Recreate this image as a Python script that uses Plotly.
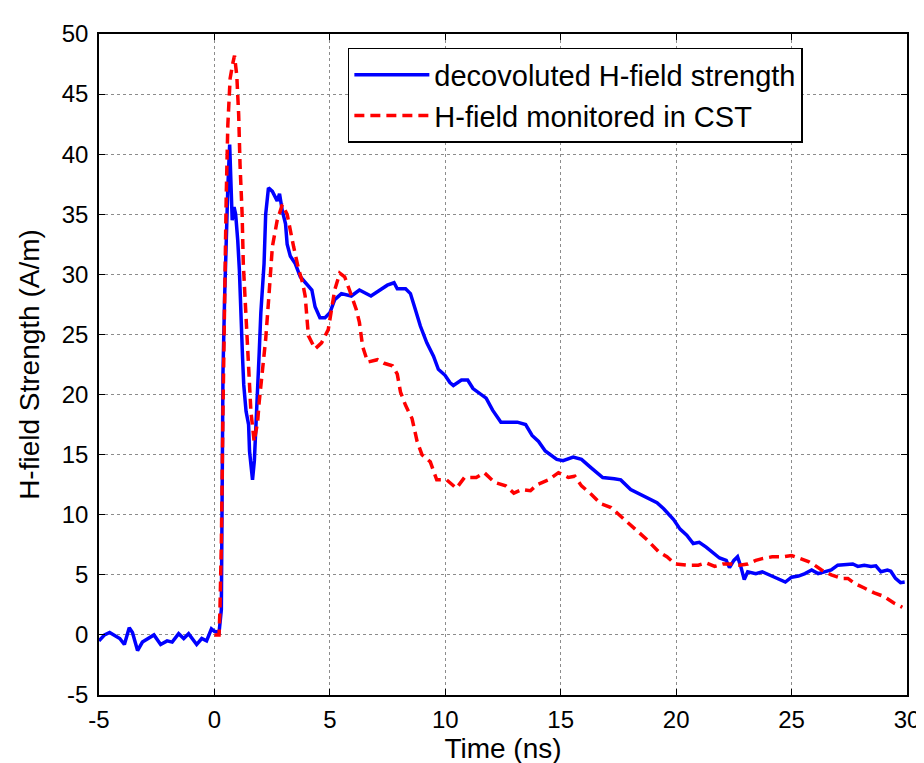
import plotly.graph_objects as go

blue_x = [-5.0, -4.76, -4.54, -4.33, -4.1, -3.9, -3.69, -3.55, -3.33, -3.12, -2.9, -2.62, -2.33, -2.05, -1.83,
          -1.55, -1.33, -1.12, -0.77, -0.55, -0.34, -0.13, 0.0, 0.2, 0.3, 0.32, 0.37, 0.44, 0.5, 0.58, 0.66,
          0.73, 0.77, 0.85, 0.92, 1.01, 1.08, 1.22, 1.27, 1.37, 1.48, 1.52, 1.6, 1.65, 1.73, 1.8, 1.87, 1.94,
          2.01, 2.15, 2.22, 2.34, 2.51, 2.72, 2.82, 2.94, 3.08, 3.15, 3.29, 3.5, 3.72, 3.93, 4.22, 4.36, 4.57,
          4.79, 5.0, 5.21, 5.5, 5.93, 6.28, 6.78, 7.21, 7.49, 7.78, 7.92, 8.28, 8.49, 8.7, 8.92, 9.2, 9.49,
          9.7, 9.99, 10.2, 10.35, 10.7, 10.97, 11.2, 11.48, 11.77, 12.05, 12.41, 12.7, 13.12, 13.48, 13.76,
          14.04, 14.33, 14.83, 15.1, 15.54, 15.9, 16.32, 16.82, 17.32, 17.6, 18.03, 18.53, 19.17, 19.46,
          19.89, 20.17, 20.46, 20.74, 21.0, 21.3, 21.6, 21.88, 22.17, 22.31, 22.5, 22.66, 22.8, 22.95, 23.1,
          23.45, 23.73, 24.02, 24.38, 24.73, 25.0, 25.3, 25.58, 25.87, 26.15, 26.44, 26.72, 27.0, 27.44,
          27.65, 27.87, 28.15, 28.44, 28.65, 28.87, 29.15, 29.3, 29.5, 29.72, 29.9]
blue_y = [-0.5, 0.0, 0.2, 0.0, -0.3, -0.8, 0.6, 0.2, -1.3, -0.6, -0.3, 0.0, -0.8, -0.5, -0.6,
          0.1, -0.3, 0.1, -0.8, -0.3, -0.5, 0.5, 0.3, 0.2, 2.1, 9.2, 21.8, 28.0, 33.3, 37.2, 40.8,
          37.5, 34.5, 35.6, 35.0, 32.8, 30.4, 23.0, 20.8, 18.6, 17.5, 15.3, 13.4, 12.9, 14.5, 17.2, 19.9, 23.5,
          26.8, 30.9, 35.0, 37.2, 36.9, 36.1, 36.7, 35.3, 34.2, 32.5, 31.5, 30.9, 29.8, 29.3, 28.7, 27.3, 26.4,
          26.4, 26.8, 27.9, 28.4, 28.2, 28.7, 28.2, 28.8, 29.1, 29.3, 28.8, 28.8, 28.4, 27.1, 25.7, 24.3, 23.2,
          22.1, 21.6, 21.0, 20.75, 21.2, 21.2, 20.5, 20.1, 19.7, 18.7, 17.7, 17.7, 17.7, 17.5, 16.6,
          16.1, 15.3, 14.6, 14.5, 14.8, 14.6, 13.9, 13.1, 13.0, 12.9, 12.1, 11.6, 11.0, 10.5,
          9.6, 8.8, 8.3, 7.6, 7.7, 7.3, 6.8, 6.4, 6.2, 5.6, 6.2, 6.5, 5.7, 4.6, 5.25,
          5.1, 5.25, 5.0, 4.7, 4.4, 4.8, 4.9, 5.1, 5.4, 5.1, 5.25, 5.4, 5.8, 5.9,
          5.9, 5.7, 5.8, 5.7, 5.75, 5.25, 5.4, 5.3, 4.7, 4.35, 4.4]

red_x = [0.0, 0.2, 0.24, 0.3, 0.37, 0.42, 0.51, 0.58, 0.68, 0.8, 0.87, 0.97, 1.05, 1.11, 1.2, 1.25, 1.34,
         1.37, 1.44, 1.51, 1.58, 1.72, 1.87, 1.94, 2.08, 2.22, 2.36, 2.51, 2.72, 2.94, 3.15, 3.29, 3.43,
         3.65, 3.82, 3.93, 4.0, 4.07, 4.36, 4.64, 4.93, 5.07, 5.21, 5.43, 5.64, 5.85, 6.14, 6.28, 6.42,
         6.64, 7.06, 7.35, 7.71, 7.92, 8.06, 8.28, 8.56, 8.78, 8.99, 9.35, 9.63, 10.06, 10.48, 10.83,
         11.34, 11.69, 12.13, 12.62, 12.97, 13.33, 13.69, 13.97, 14.47, 14.9, 15.33, 15.61, 15.9, 16.32,
         16.75, 17.18, 17.47, 17.89, 18.32, 18.75, 19.25, 19.6, 19.96, 20.46, 20.96, 21.3, 21.67, 22.03,
         22.38, 22.74, 23.1, 23.45, 23.73, 24.16, 24.66, 25.0, 25.37, 25.73, 26.0, 26.3, 26.72, 27.15,
         27.44, 27.72, 28.15, 28.58, 29.0, 29.43, 29.8]
red_y = [0.0, 0.0, 2.1, 7.6, 18.6, 26.8, 36.4, 42.4, 46.3, 47.6, 48.2, 46.5, 43.3, 39.1, 35.0, 30.9, 27.6,
         25.4, 22.7, 20.8, 18.6, 16.1, 17.7, 19.4, 22.1, 24.6, 28.2, 32.3, 34.5, 35.8, 35.0, 33.6, 32.3,
         30.4, 29.3, 28.2, 26.8, 24.9, 23.8, 24.3, 25.4, 27.3, 28.7, 30.1, 29.8, 28.7, 27.1, 26.0, 24.0,
         22.7, 22.9, 22.6, 22.4, 21.7, 20.2, 19.1, 18.0, 16.1, 15.0, 14.4, 12.9, 12.9, 12.2, 13.1,
         13.1, 13.5, 12.7, 12.4, 11.8, 12.1, 12.0, 12.5, 12.9, 13.5, 13.1, 13.2, 12.4, 11.7,
         10.9, 10.6, 10.1, 9.4, 8.7, 7.9, 6.9, 6.5, 5.9, 5.8, 5.8, 6.0, 5.7, 5.9,
         5.9, 5.8, 5.9, 6.2, 6.35, 6.5, 6.5, 6.6, 6.35, 6.1, 5.8, 5.4, 5.0, 4.7,
         4.7, 4.3, 3.9, 3.5, 3.2, 2.65, 2.3]

x_ticks = [-5, 0, 5, 10, 15, 20, 25, 30]
y_ticks = [-5, 0, 5, 10, 15, 20, 25, 30, 35, 40, 45, 50]

fig = go.Figure()
fig.add_trace(go.Scatter(x=blue_x, y=blue_y, mode="lines", name="decovoluted H-field strength",
                         line=dict(color="#0000ff", width=3.5)))
fig.add_trace(go.Scatter(x=red_x, y=red_y, mode="lines", name="H-field monitored in CST",
                         line=dict(color="#ff0000", width=3.5, dash="10px,6px")))

font_family = "Liberation Sans, Arial, sans-serif"
axis_common = dict(showline=True, linecolor="black", linewidth=1.5, mirror="ticks",
                   ticks="inside", ticklen=6, tickcolor="black",
                   showgrid=True, gridcolor="#8c8c8c", griddash="dot", gridwidth=1,
                   zeroline=False, tickfont=dict(size=24, color="black", family=font_family))

fig.update_xaxes(range=[-5, 30], tickvals=x_ticks, ticktext=[str(v) for v in x_ticks],
                 ticklabelstandoff=2,
                 title=dict(text="Time (ns)", font=dict(size=28, color="black", family=font_family),
                            standoff=4),
                 **axis_common)
fig.update_yaxes(range=[-5, 50], tickvals=y_ticks, ticktext=[str(v) for v in y_ticks],
                 ticklabelstandoff=4,
                 title=dict(text="H-field Strength (A/m)", font=dict(size=28, color="black", family=font_family),
                            standoff=14),
                 **axis_common)

fig.update_layout(
    width=924, height=763,
    margin=dict(l=91, r=17, t=18, b=76),
    paper_bgcolor="white", plot_bgcolor="white",
    font=dict(family=font_family, color="black"),
    legend=dict(x=0.308, y=0.979, xanchor="left", yanchor="top",
                bgcolor="white", bordercolor="black", borderwidth=1.5,
                font=dict(size=29, color="black", family=font_family),
                itemwidth=75, tracegroupgap=0),
)

fig.write_html("out.html")
